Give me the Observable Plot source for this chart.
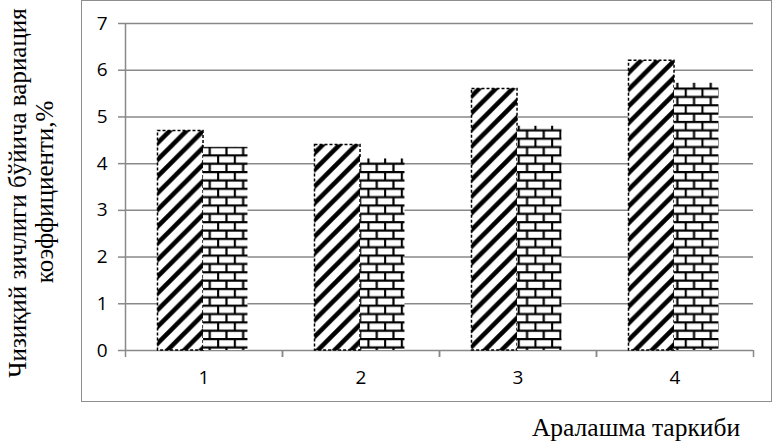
<!DOCTYPE html>
<html>
<head>
<meta charset="utf-8">
<script src="https://cdn.jsdelivr.net/npm/d3@7"></script>
<script src="https://cdn.jsdelivr.net/npm/@observablehq/plot@0.6"></script>
<style>
  html, body { margin: 0; padding: 0; background: #fff; }
  #wrap { position: relative; width: 777px; height: 443px; overflow: hidden; }
  #box { position: absolute; left: 81px; top: 0px; width: 691px; height: 402px; border: 1.5px solid #8e8e8e; box-sizing: border-box; }
  #chart { position: absolute; left: 0; top: 0; }
  #over { position: absolute; left: 0; top: 0; pointer-events: none; }
</style>
</head>
<body>
<div id="wrap">
  <div id="box"></div>
  <div id="chart"></div>
  <svg id="over" width="777" height="443"></svg>
</div>
<script>
const categories = ["1", "2", "3", "4"];
const seriesHatched = [4.7, 4.4, 5.6, 6.2];
const seriesBrick = [4.35, 4.1, 4.8, 5.72];
const yTicks = [0, 1, 2, 3, 4, 5, 6, 7];
const yTitleLines = ["Чизиқий зичлиги бўйича вариация", "коэффициенти,%"];
const xTitle = "Аралашма таркиби";

const W = 777, H = 443;
const mL = 125, mR = 24, mT = 23, mB = 93;
const bw = (W - mL - mR) / categories.length;

const dataA = categories.map((c, i) => ({cat: c, v: seriesHatched[i]}));
const dataB = categories.map((c, i) => ({cat: c, v: seriesBrick[i]}));

const grid = "#898989";
const sans = "'Open Sans', Lato, sans-serif";

const plot = Plot.plot({
  width: W,
  height: H,
  marginLeft: mL,
  marginRight: mR,
  marginTop: mT,
  marginBottom: mB,
  style: {background: "transparent", fontFamily: sans, fontSize: "19px", color: "#000"},
  x: {type: "band", domain: categories, padding: 0},
  y: {domain: [0, 7]},
  marks: [
    Plot.ruleY(yTicks, {stroke: grid, strokeWidth: 1.5}),
    Plot.ruleX([categories[0]], {dx: -bw / 2, y1: 0, y2: 7, stroke: grid, strokeWidth: 1.5}),
    Plot.axisY({ticks: yTicks, tickFormat: d3.format("d"), tickSize: 7, tickPadding: 11, stroke: grid, strokeWidth: 1.5,
      fill: "#000", label: null, fontSize: 19, fontFamily: sans}),
    Plot.axisX({tickSize: 7, text: null, dx: -bw / 2, stroke: grid, strokeWidth: 1.5, label: null}),
    Plot.axisX({tickSize: 7, text: null, dx: bw / 2, stroke: grid, strokeWidth: 1.5, label: null}),
    Plot.axisX({tickSize: 0, tickPadding: 20, fill: "#000", label: null, fontSize: 19, fontFamily: sans}),
    Plot.barY(dataA, {x: "cat", y: "v", fill: "url(#hatch)", stroke: "#000", strokeWidth: 1.5, strokeDasharray: "3,2",
      insetLeft: bw * 0.207, insetRight: bw * (1 - 0.497)}),
    Plot.barY(dataB, {x: "cat", y: "v", fill: "url(#brick)",
      insetLeft: bw * 0.497, insetRight: bw * (1 - 0.78)})
  ]
});

const s = 16.7;
d3.select(plot).insert("defs", ":first-child").html(`
  <pattern id="hatch" patternUnits="userSpaceOnUse" width="${s}" height="${s}">
    <rect width="${s}" height="${s}" fill="#fff"/>
    <path d="M${-s/2},${s/2} L${s/2},${-s/2} M0,${s} L${s},0 M${s/2},${s*1.5} L${s*1.5},${s/2}" stroke="#000" stroke-width="4.6"/>
  </pattern>
  <pattern id="brick" patternUnits="userSpaceOnUse" width="${s}" height="${s}" y="4">
    <rect width="${s}" height="${s}" fill="#fff"/>
    <path d="M0,1 H${s} M0,${s/2+1} H${s} M1,0 V${s/2} M${s/2+1},${s/2} V${s}" stroke="#000" stroke-width="2.2"/>
  </pattern>
`);
document.getElementById("chart").appendChild(plot);

const over = d3.select("#over");
const serif = "'Liberation Serif', 'Times New Roman', serif";
over.append("text").attr("transform", "translate(26,193) rotate(-90)").attr("text-anchor", "middle")
  .attr("font-family", serif).attr("font-size", 25).attr("fill", "#000").text(yTitleLines[0]);
over.append("text").attr("transform", "translate(53,192) rotate(-90)").attr("text-anchor", "middle")
  .attr("font-family", serif).attr("font-size", 25).attr("fill", "#000").text(yTitleLines[1]);
over.append("text").attr("x", 636).attr("y", 436).attr("text-anchor", "middle")
  .attr("font-family", serif).attr("font-size", 25.5).attr("fill", "#000").text(xTitle);
</script>
</body>
</html>
